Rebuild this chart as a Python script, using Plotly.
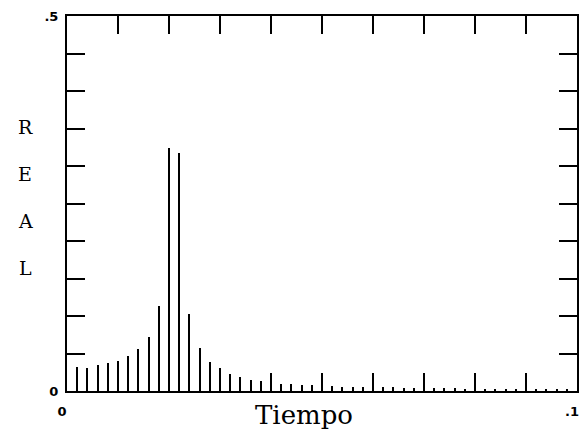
import plotly.graph_objects as go

# data
tiempo = [round(k * 0.002, 3) for k in range(1, 50)]
real = [0.032, 0.031, 0.035, 0.037, 0.040, 0.047, 0.056, 0.072, 0.113, 0.324,
        0.317, 0.103, 0.057, 0.039, 0.031, 0.023, 0.019, 0.015, 0.013, 0.012,
        0.010, 0.009, 0.008, 0.008, 0.007, 0.007, 0.006, 0.006, 0.005, 0.005,
        0.005, 0.005, 0.004, 0.004, 0.004, 0.004, 0.004, 0.004, 0.003, 0.003,
        0.003, 0.003, 0.003, 0.003, 0.003, 0.003, 0.003, 0.003, 0.003]
x_ticks = [round(i * 0.01, 2) for i in range(11)]
x_ticktext = ["0"] + [""] * 9 + [".1"]
y_ticks = [round(i * 0.05, 2) for i in range(11)]
y_ticktext = ["0"] + [""] * 9 + [".5"]
ylabel_letters = ["R", "E", "A", "L"]

# page has an 8px body margin; plot area should span x 67..577, y 16..391
OFF = 8
L, R, T, B = 67, 577, 16, 391
W = 587 - OFF
H = 440 - 2 * OFF

fig = go.Figure()
fig.add_trace(go.Bar(x=tiempo, y=real, width=0.0004,
                     marker=dict(color="black", line=dict(width=0))))

tickfont = dict(family="DejaVu Sans", size=13, color="black", weight="bold")
fig.update_layout(
    width=W, height=H,
    margin=dict(l=L - OFF, r=587 - R, t=T - OFF, b=H + OFF - B, pad=0),
    paper_bgcolor="white", plot_bgcolor="white",
    showlegend=False,
    bargap=0,
    xaxis=dict(range=[0, 0.1], tickvals=x_ticks, ticktext=x_ticktext,
               ticks="inside", ticklen=18, tickwidth=2, tickcolor="black",
               showline=True, linecolor="black", linewidth=2, mirror="allticks",
               showgrid=False, zeroline=False, tickfont=tickfont,
               ticklabelstandoff=7, ticklabelshift=-5, automargin=False),
    yaxis=dict(range=[0, 0.5], tickvals=y_ticks, ticktext=y_ticktext,
               ticks="inside", ticklen=18, tickwidth=2, tickcolor="black",
               showline=True, linecolor="black", linewidth=2, mirror="allticks",
               showgrid=False, zeroline=False, tickfont=tickfont,
               ticklabelstandoff=4, automargin=False),
)

def px_to_paper(px, py):
    return (px - L) / (R - L), (B - py) / (B - T)

letter_y = [127, 174, 221, 268]
for letter, py in zip(ylabel_letters, letter_y):
    x, y = px_to_paper(25, py)
    fig.add_annotation(text=letter, xref="paper", yref="paper", x=x, y=y,
                       xanchor="center", yanchor="middle", showarrow=False,
                       font=dict(family="DejaVu Serif", size=19, color="black"))

x, y = px_to_paper(304, 415)
fig.add_annotation(text="Tiempo", xref="paper", yref="paper", x=x, y=y,
                   xanchor="center", yanchor="middle", showarrow=False,
                   font=dict(family="DejaVu Serif", size=26, color="black"))

fig.write_html("out.html")
